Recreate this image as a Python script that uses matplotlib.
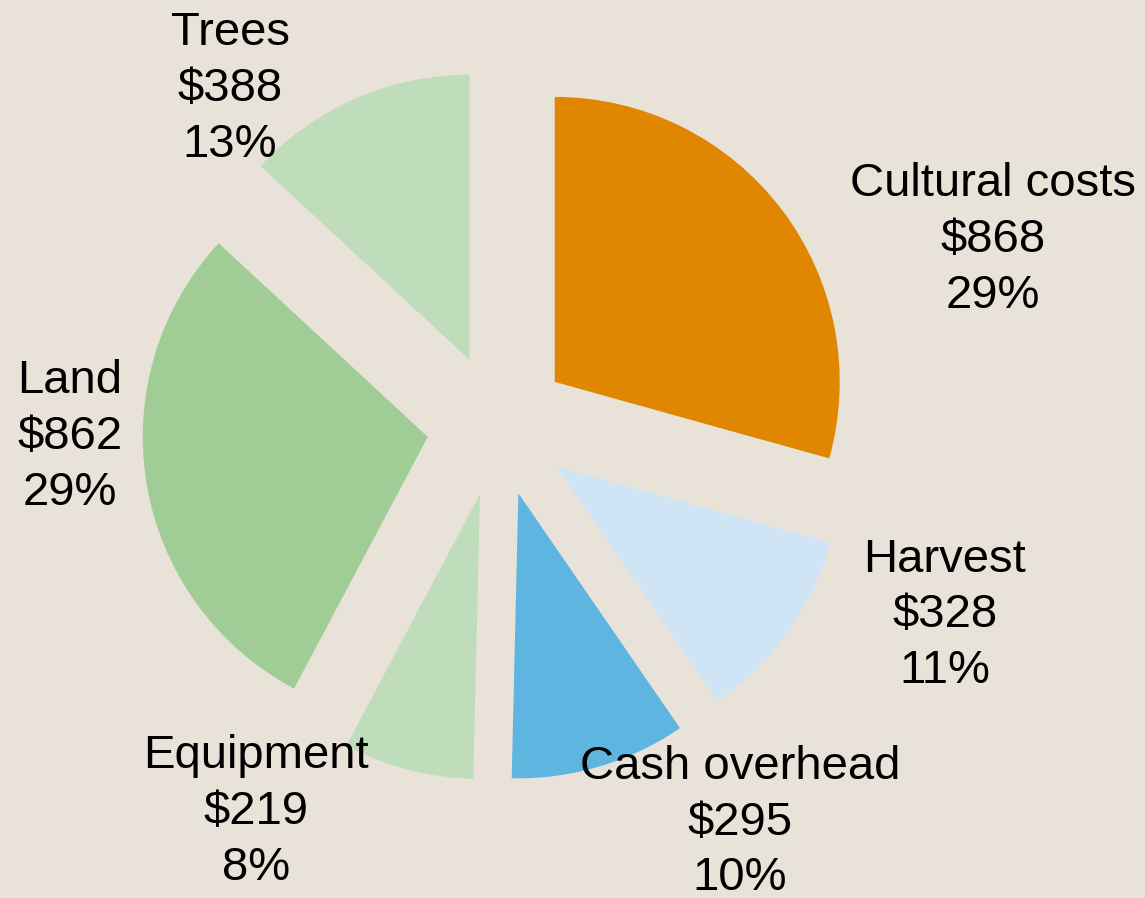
import matplotlib.pyplot as plt

# slices, clockwise from 12 o'clock
categories = ["Cultural costs", "Harvest", "Cash overhead", "Equipment", "Land", "Trees"]
costs = [868, 328, 295, 219, 862, 388]
shares = [29, 11, 10, 8, 29, 13]
colors = ["#E08600", "#CFE5F5", "#5EB5E0", "#C0DDBB", "#9FCD95", "#C0DDBB"]

# label centres in axis units (pie radius = 1)
label_pos = [(1.737, 0.649), (1.568, -0.667), (0.849, -1.396),
             (-0.849, -1.358), (-1.502, -0.042), (-0.940, 1.179)]

bg = "#E9E2D9"
plt.rcParams['font.family'] = ['Liberation Sans', 'DejaVu Sans']

fig = plt.figure(figsize=(11.45, 8.98), dpi=100)
fig.patch.set_facecolor(bg)
ax = fig.add_axes([0, 0, 1, 1])
ax.set_facecolor(bg)

ax.pie(costs, colors=colors, startangle=90, counterclock=False,
       explode=[0.25] * len(costs), radius=1.0,
       wedgeprops=dict(linewidth=0))

for name, cost, pct, (x, y) in zip(categories, costs, shares, label_pos):
    ax.text(x, y, f"{name}\n${cost}\n{pct}%", ha='center', va='center',
            multialignment='center', fontsize=34, color='black', linespacing=1.34)

ax.set_xlim(-1.7474, 2.2702)
ax.set_ylim(-1.6596, 1.4912)
ax.set_aspect('auto')
ax.axis('off')

fig.savefig("out.png", dpi=100, facecolor=bg)
